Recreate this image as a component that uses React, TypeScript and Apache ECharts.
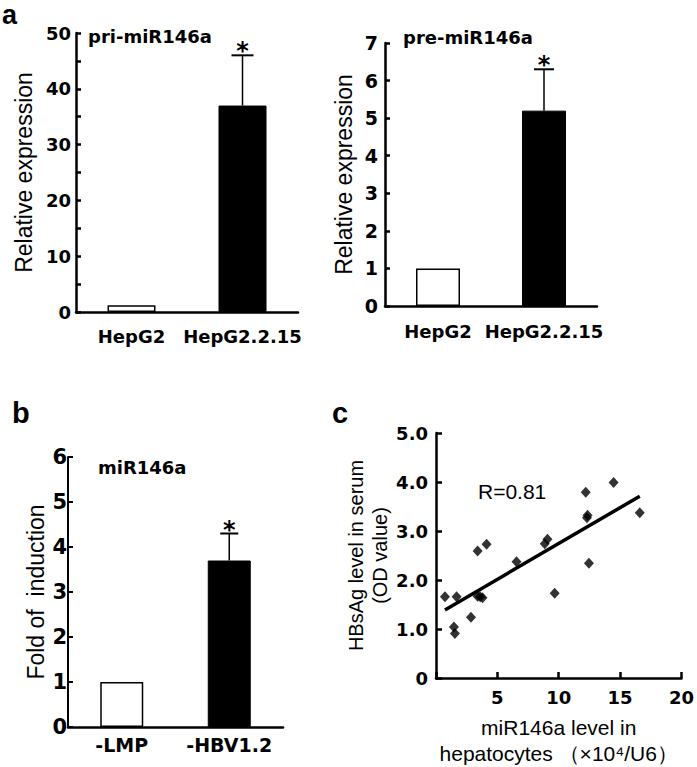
import React, { useEffect, useRef } from "react";
import * as echarts from "echarts";

// ---- data ----
const catsA = ["HepG2", "HepG2.2.15"];
const priMean = [1.2, 37];
const priErr = [0, 9];
const priStar = ["", "*"];

const preMean = [1, 5.2];
const preErr = [0, 1.1];
const preStar = ["", "*"];

const catsB = ["-LMP", "-HBV1.2"];
const foldMean = [1, 3.7];
const foldErr = [0, 0.6];
const foldStar = ["", "*"];

const mirX = [0.73, 1.68, 1.46, 1.54, 2.85, 3.39, 4.12, 3.39, 3.79, 3.6, 6.56, 8.86, 9.08, 9.67, 12.2, 12.3, 12.35, 12.46, 14.47, 16.6];
const hbsY = [1.66, 1.66, 1.04, 0.91, 1.24, 2.59, 2.73, 1.67, 1.64, 1.66, 2.37, 2.74, 2.83, 1.73, 3.79, 3.27, 3.32, 2.34, 3.99, 3.37];
const fitX = [0.73, 16.6];
const fitY = [1.39, 3.71];

const BOLD = "DejaVu Sans";
const REG = "Liberation Sans";

function barData(means: number[]) {
  return means.map((v, i) => ({
    value: v,
    itemStyle:
      i === 0
        ? { color: "#ffffff", borderColor: "#000", borderWidth: 1.5 }
        : { color: "#000000", borderColor: "#000", borderWidth: 1 },
  }));
}

function errData(means: number[], errs: number[], stars: string[]) {
  return means.map((m, i) => [i, m, errs[i], stars[i]]);
}

function errSeries(idx: number, means: number[], errs: number[], stars: string[], capHalf: number) {
  return {
    type: "custom",
    xAxisIndex: idx,
    yAxisIndex: idx,
    data: errData(means, errs, stars),
    renderItem: (params: any, api: any) => {
      const x = api.value(0);
      const m = api.value(1);
      const e = api.value(2);
      const s = stars[params.dataIndex];
      if (!e) return { type: "group", children: [] };
      const base = api.coord([x, m]);
      const top = api.coord([x, m + e]);
      const children: any[] = [
        { type: "line", shape: { x1: base[0], y1: base[1], x2: top[0], y2: top[1] }, style: { stroke: "#000", lineWidth: 1.5 } },
        { type: "line", shape: { x1: top[0] - capHalf, y1: top[1], x2: top[0] + capHalf, y2: top[1] }, style: { stroke: "#000", lineWidth: 2 } },
      ];
      if (s) {
        children.push({
          type: "text",
          style: { text: s, x: top[0], y: top[1] - 4, align: "center", verticalAlign: "middle", fontSize: 24, fontWeight: "bold", fontFamily: BOLD, fill: "#000" },
        });
      }
      return { type: "group", children };
    },
    z: 5,
  };
}

function catXAxis(idx: number, cats: string[], margin: number, fontSize: number) {
  return {
    type: "category",
    gridIndex: idx,
    data: cats,
    axisLine: { lineStyle: { color: "#000", width: 2.5 } },
    axisTick: { inside: true, length: 6, lineStyle: { color: "#000", width: 2.5 } },
    axisLabel: { color: "#000", fontFamily: BOLD, fontWeight: "bold", fontSize, margin, interval: 0, hideOverlap: false },
  };
}

export default function App() {
  const ref = useRef<HTMLDivElement>(null);
  useEffect(() => {
    if (!ref.current) return;
    const chart = echarts.init(ref.current, undefined, { renderer: "svg" });
    const titleStyle = { color: "#000", fontFamily: BOLD, fontWeight: "bold", fontSize: 18 };
    chart.setOption({
      animation: false,
      backgroundColor: "#fff",
      title: [
        { text: "pri-miR146a", left: 88, top: 27, textStyle: titleStyle, padding: 0 },
        { text: "pre-miR146a", left: 403, top: 28, textStyle: titleStyle, padding: 0 },
        { text: "miR146a", left: 98, top: 458, textStyle: titleStyle, padding: 0 },
        { text: "R=0.81", left: 478, top: 481, textStyle: { color: "#000", fontFamily: REG, fontWeight: "normal", fontSize: 21 }, padding: 0 },
      ],
      graphic: [
        { type: "text", x: 2, y: 15, style: { text: "a", fontSize: 27, fontWeight: "bold", fontFamily: REG, fill: "#000", verticalAlign: "middle" } },
        { type: "text", x: 12, y: 413, style: { text: "b", fontSize: 29, fontWeight: "bold", fontFamily: REG, fill: "#000", verticalAlign: "middle" } },
        { type: "text", x: 332, y: 413, style: { text: "c", fontSize: 29, fontWeight: "bold", fontFamily: REG, fill: "#000", verticalAlign: "middle" } },
      ],
      grid: [
        { left: 76, top: 33, width: 222, height: 279 },
        { left: 385, top: 43, width: 212, height: 263 },
        { left: 68, top: 457, width: 215, height: 270 },
        { left: 436, top: 433, width: 246, height: 249 },
      ],
      xAxis: [
        catXAxis(0, catsA, 15, 18),
        catXAxis(1, catsA, 16, 18),
        catXAxis(2, catsB, 8, 19),
        {
          type: "value",
          gridIndex: 3,
          min: 0,
          max: 20,
          interval: 5,
          splitLine: { show: false },
          axisLine: { lineStyle: { color: "#000", width: 2.5 } },
          axisTick: { inside: true, length: 6, lineStyle: { color: "#000", width: 2.5 } },
          axisLabel: { color: "#000", fontFamily: BOLD, fontWeight: "bold", fontSize: 18, margin: 10, formatter: (v: number) => (v === 0 ? "" : String(v)) },
          name: "miR146a level in\nhepatocytes （×10⁴/U6）",
          nameLocation: "middle",
          nameGap: 36,
          nameTextStyle: { color: "#000", fontFamily: REG, fontSize: 21, lineHeight: 26, verticalAlign: "top" },
        },
      ],
      yAxis: [
        {
          type: "value",
          gridIndex: 0,
          min: 0,
          max: 50,
          interval: 5,
          splitLine: { show: false },
          axisLine: { show: true, lineStyle: { color: "#000", width: 2.5 } },
          axisTick: { show: true, inside: true, length: 5, lineStyle: { color: "#000", width: 2.5 } },
          axisLabel: { color: "#000", fontFamily: BOLD, fontWeight: "bold", fontSize: 18, margin: 5, formatter: (v: number) => (v % 10 === 0 ? String(v) : "") },
          name: "Relative expression",
          nameLocation: "middle",
          nameGap: 41,
          nameTextStyle: { color: "#000", fontFamily: REG, fontSize: 23 },
        },
        {
          type: "value",
          gridIndex: 1,
          min: 0,
          max: 7,
          interval: 1,
          splitLine: { show: false },
          axisLine: { show: true, lineStyle: { color: "#000", width: 2.5 } },
          axisTick: { show: true, inside: true, length: 5, lineStyle: { color: "#000", width: 2.5 } },
          axisLabel: { color: "#000", fontFamily: BOLD, fontWeight: "bold", fontSize: 19, margin: 7 },
          name: "Relative expression",
          nameLocation: "middle",
          nameGap: 30,
          nameTextStyle: { color: "#000", fontFamily: REG, fontSize: 23 },
        },
        {
          type: "value",
          gridIndex: 2,
          min: 0,
          max: 6,
          interval: 1,
          splitLine: { show: false },
          axisLine: { show: true, lineStyle: { color: "#000", width: 2 } },
          axisTick: { show: true, inside: true, length: 5, lineStyle: { color: "#000", width: 2 } },
          axisLabel: { color: "#000", fontFamily: BOLD, fontWeight: "bold", fontSize: 21, margin: 1 },
          name: "Fold of  induction",
          nameLocation: "middle",
          nameGap: 21,
          nameTextStyle: { color: "#000", fontFamily: REG, fontSize: 23 },
        },
        {
          type: "value",
          gridIndex: 3,
          min: 0,
          max: 5,
          interval: 1,
          splitLine: { show: false },
          axisLine: { show: true, lineStyle: { color: "#000", width: 2.5 } },
          axisTick: { show: true, inside: true, length: 6, lineStyle: { color: "#000", width: 2.5 } },
          axisLabel: { color: "#000", fontFamily: BOLD, fontWeight: "bold", fontSize: 18, margin: 8, formatter: (v: number) => (v === 0 ? "0" : v.toFixed(1)) },
          name: "HBsAg level in serum\n(OD value)",
          nameLocation: "middle",
          nameGap: 38,
          nameTextStyle: { color: "#000", fontFamily: REG, fontSize: 20, lineHeight: 24 },
        },
      ],
      series: [
        { type: "bar", xAxisIndex: 0, yAxisIndex: 0, data: barData(priMean), barWidth: 48 },
        errSeries(0, priMean, priErr, priStar, 11),
        { type: "bar", xAxisIndex: 1, yAxisIndex: 1, data: barData(preMean), barWidth: 44 },
        errSeries(1, preMean, preErr, preStar, 10),
        { type: "bar", xAxisIndex: 2, yAxisIndex: 2, data: barData(foldMean), barWidth: 43 },
        errSeries(2, foldMean, foldErr, foldStar, 9),
        {
          type: "scatter",
          xAxisIndex: 3,
          yAxisIndex: 3,
          symbol: "diamond",
          symbolSize: [10, 11],
          itemStyle: { color: "#000" },
          data: mirX.map((x, i) => [x, hbsY[i]]),
          z: 3,
        },
        {
          type: "line",
          xAxisIndex: 3,
          yAxisIndex: 3,
          showSymbol: false,
          symbol: "none",
          lineStyle: { color: "#000", width: 3.5 },
          data: fitX.map((x, i) => [x, fitY[i]]),
          z: 4,
        },
      ],
    });
    return () => chart.dispose();
  }, []);
  return <div ref={ref} style={{ position: "fixed", left: 0, top: 0, width: 697, height: 767, background: "#fff" }} />;
}
